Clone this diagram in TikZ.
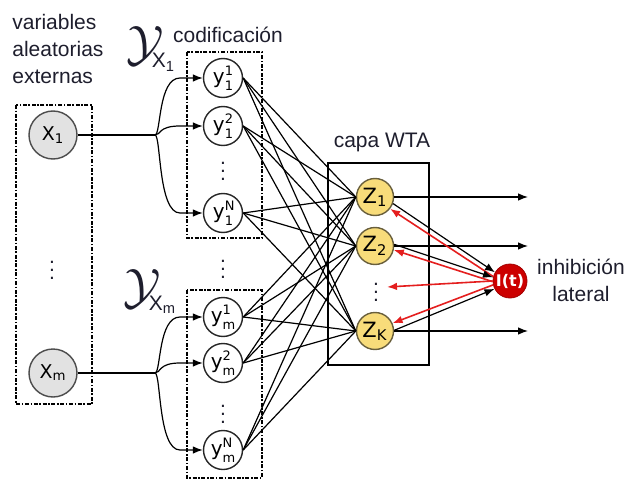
\documentclass[tikz,border=0pt]{standalone}
\usepackage{fontspec}
\setmainfont{Liberation Sans}
\newfontfamily\nodefont{DejaVu Sans}
\usetikzlibrary{arrows.meta,positioning,calc}
\definecolor{txtcolor}{RGB}{30,30,45}
\definecolor{xgray}{RGB}{226,226,226}
\definecolor{zyellow}{RGB}{248,220,122}
\definecolor{zborder}{RGB}{105,95,60}
\definecolor{inhred}{RGB}{204,0,0}
\definecolor{arrred}{RGB}{228,30,30}
\newcommand{\yl}[2]{y\rlap{\raisebox{0.8ex}{\fontsize{6.5}{6.5}\selectfont #1}}%
  \raisebox{-0.6ex}{\fontsize{6.5}{6.5}\selectfont #2}}
\tikzset{
  lbl/.style    = {font=\fontsize{10.5}{13.5}\selectfont,text=txtcolor,inner sep=0pt},
  xnode/.style  = {circle,draw=black!70,fill=xgray,minimum size=24pt,inner sep=0pt,
                   line width=0.7pt,font=\nodefont\fontsize{9.5}{10}\selectfont},
  ynode/.style  = {circle,draw=black!85,fill=white,minimum size=19.5pt,inner sep=0pt,
                   line width=0.7pt,font=\nodefont\fontsize{10}{10}\selectfont},
  znode/.style  = {circle,draw=zborder,fill=zyellow,minimum size=18.5pt,inner sep=0pt,
                   line width=0.7pt,font=\nodefont\fontsize{10.5}{10}\selectfont},
  inode/.style  = {circle,draw=inhred!80!black,fill=inhred,minimum size=17pt,inner sep=0pt,
                   text=white,font=\nodefont\bfseries\fontsize{8}{8}\selectfont},
  dbox/.style   = {draw=black,line width=0.6pt,
                   dash pattern=on 2pt off 0.8pt on 0.8pt off 0.8pt},
  conn/.style   = {line width=0.6pt},
  arrow/.style  = {-{Latex[length=5pt,width=3.8pt]},line width=0.6pt},
  rdarrow/.style= {-{Latex[length=5pt,width=3.8pt]},line width=0.8pt,color=arrred},
}

\begin{document}
\begin{tikzpicture}[x=0.5pt,y=-0.5pt]
  \useasboundingbox (0,0) rectangle (626,481);
  % boxes
  \draw[dbox] (16,105) rectangle (92,404);
  \draw[dbox] (187,52) rectangle (262,238);
  \draw[dbox] (187,290) rectangle (262,478);
  \draw[line width=0.6pt] (328,163) rectangle (429,365);

  % input variables
  \node[xnode] (x1) at (53,135) {X\textsubscript{1}};
  \node[xnode] (xm) at (53,373) {X\textsubscript{m}};
  \node[lbl] (xdots) at (52,264) {$\vdots$};

  % coding neurons
  \node[ynode] (y11) at (223,78)  {\yl{1}{1}};
  \node[ynode] (y12) at (223,126) {\yl{2}{1}};
  \node[ynode] (y1n) at (223,213) {\yl{N}{1}};
  \node[ynode] (ym1) at (223,317) {\yl{1}{m}};
  \node[ynode] (ym2) at (223,363) {\yl{2}{m}};
  \node[ynode] (ymn) at (223,450) {\yl{N}{m}};
  \node[lbl] (ydots1) at (223,165) {$\vdots$};
  \node[lbl] (ydots2) at (223,263) {$\vdots$};
  \node[lbl] (ydots3) at (223,408) {$\vdots$};

  % WTA layer
  \node[znode] (z1) at (375,197) {Z\textsubscript{1}};
  \node[znode] (z2) at (375,246) {Z\textsubscript{2}};
  \node[znode] (zk) at (375,331) {Z\textsubscript{K}};
  \node[lbl] (zdots) at (376,286) {$\vdots$};
  \node[inode] (it) at (510,281) {I(t)};

  % labels
  \node[lbl,align=left,anchor=west] (vlbl) at (12,48.5) {variables\\aleatorias\\externas};
  \node[lbl] (clbl) at (228,35) {codificación};
  \node[lbl] (wlbl) at (382,142) {capa WTA};
  \node[lbl,align=center] (ilbl) at (581,280) {inhibición\\lateral};
  \node[lbl,anchor=base west] (ylbl1) at (126,61)
        {{\fontsize{24}{24}\selectfont$\mathcal{Y}$}\kern-6pt\raisebox{-3.5pt}{X\textsubscript{1}}};
  \node[lbl,anchor=base west] (ylblm) at (123,303)
        {{\fontsize{24}{24}\selectfont$\mathcal{Y}$}\kern-6pt\raisebox{-3.5pt}{X\textsubscript{m}}};

  % encoding
  \coordinate (b1) at (155,135);
  \coordinate (bm) at (155,373);
  \coordinate (bx) at (180,0);
  \coordinate (oend) at (528,0);
  \draw[conn] (x1) -- (b1);
  \draw[conn] (xm) -- (bm);
  \foreach \t in {y11,y12,y1n}
    \draw[arrow] (b1) .. controls +(6,0) and +(-22,0) .. (\t.west -| bx) -- (\t.west);
  \foreach \t in {ym1,ym2,ymn}
    \draw[arrow] (bm) .. controls +(6,0) and +(-22,0) .. (\t.west -| bx) -- (\t.west);

  % all-to-all
  \foreach \s in {y11,y12,y1n,ym1,ym2,ymn}
    \foreach \t in {z1,z2,zk}
      \draw[conn] (\s.east) -- (\t.west);

  % outputs
  \foreach \t in {z1,z2,zk}
    \draw[arrow] (\t.east) -- (\t.east -| oend);

  % lateral inhibition
  \coordinate (dend) at (387,287);
  \draw[arrow] (z1.-20) -- (it.150);
  \draw[rdarrow] (it.165) -- (z1.-38);
  \draw[arrow] (z2.5) -- (it.168);
  \draw[rdarrow] (it.182) -- (z2.-12);
  \draw[arrow] (zk.2) -- (it.207);
  \draw[rdarrow] (it.193) -- (zk.24);
  \draw[rdarrow] (it.180) -- (dend);
\end{tikzpicture}
\end{document}
